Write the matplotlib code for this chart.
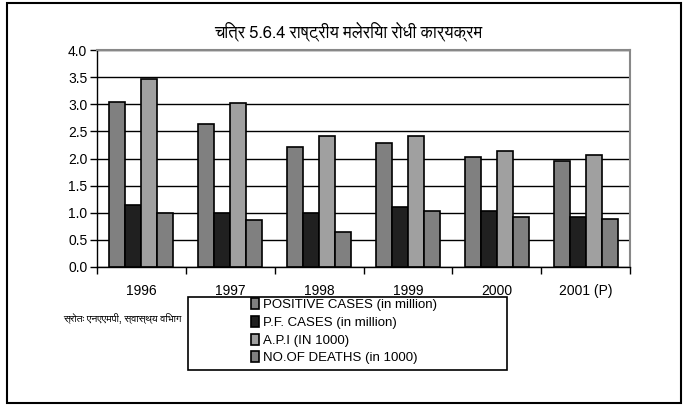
import numpy as np
import matplotlib
matplotlib.use("Agg")
import matplotlib.pyplot as plt
from matplotlib.patches import Rectangle

years = ['1996', '1997', '1998', '1999', '2000', '2001 (P)']
positive = [3.04, 2.64, 2.21, 2.28, 2.03, 1.95]
pf_cases = [1.15, 1.00, 1.00, 1.11, 1.04, 0.93]
api = [3.46, 3.02, 2.42, 2.42, 2.14, 2.07]
deaths = [1.00, 0.86, 0.64, 1.04, 0.93, 0.89]

labels = ['POSITIVE CASES (in million)', 'P.F. CASES (in million)',
          'A.P.I (IN 1000)', 'NO.OF DEATHS (in 1000)']
colors = ['#808080', '#202020', '#a0a0a0', '#808080']

title = 'चित्र 5.6.4 राष्ट्रीय मलेरिया रोधी कार्यक्रम'
source = 'स्रोतः एनएएमपी, स्वास्थ्य विभाग'

# fonts with devanagari glyphs first, then plain sans
hfont = ['FreeSans', 'Noto Sans Devanagari', 'Noto Sans', 'DejaVu Sans']
plt.rcParams['font.family'] = ['Liberation Sans', 'DejaVu Sans']

fig = plt.figure(figsize=(6.83, 4.05), dpi=100)
fig.add_artist(Rectangle((7 / 683, 2 / 405), 674 / 683, 400 / 405, transform=fig.transFigure,
                         fill=False, edgecolor='black', linewidth=1.5))

ax = fig.add_axes([97 / 683, 1 - 267 / 405, 533 / 683, 217 / 405])
x = np.arange(len(years))
w = 0.18
series = [positive, pf_cases, api, deaths]
bars = []
for i, vals in enumerate(series):
    b = ax.bar(x + (i - 1.5) * w, vals, w, color=colors[i], edgecolor='black', linewidth=1.2)
    bars.append(b)

ax.set_xlim(-0.5, len(years) - 0.5)
ax.set_ylim(0, 4)
yt = np.arange(0, 4.01, 0.5)
ax.set_yticks(yt)
ax.set_yticklabels(['%.1f' % v for v in yt], fontsize=10)
ax.set_xticks(x)
ax.set_xticklabels(years, fontsize=10)
ax.set_xticks(np.arange(-0.5, len(years), 1), minor=True)
ax.tick_params(axis='x', which='major', length=0, pad=12)
ax.tick_params(axis='x', which='minor', length=5, width=1)
ax.tick_params(axis='y', length=5, width=1, pad=2)
ax.set_axisbelow(True)
ax.yaxis.grid(True, color='black', linewidth=1)
for s in ['top', 'right']:
    ax.spines[s].set_color('#888888')
    ax.spines[s].set_linewidth(1.5)
ax.spines['left'].set_linewidth(1)
ax.spines['bottom'].set_linewidth(1)

fig.text(348 / 683, 1 - 31 / 405, title, ha='center', va='center', fontsize=12, family=hfont)
fig.text(63 / 683, 1 - 318 / 405, source, ha='left', va='center', fontsize=7.5, family=hfont)

fig.add_artist(Rectangle((188 / 683, 1 - 370 / 405), 319 / 683, 73 / 405, transform=fig.transFigure,
                         fill=False, edgecolor='black', linewidth=1.2))
fig.legend(bars, labels, loc='upper left', bbox_to_anchor=(251 / 683, 1 - 298 / 405),
           frameon=False, fontsize=9.5, handlelength=0.6, handleheight=0.9, handletextpad=0.3,
           labelspacing=0.36, borderpad=0, borderaxespad=0)

fig.savefig('out.png', dpi=100)
